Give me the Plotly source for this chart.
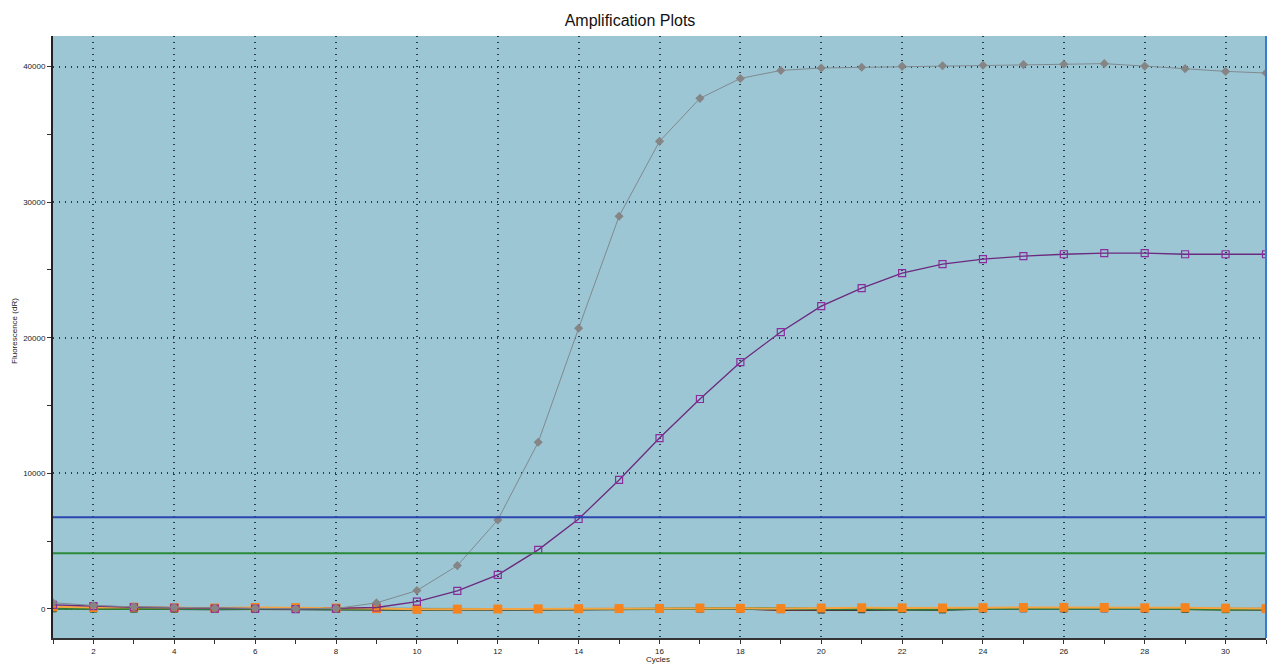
import plotly.graph_objects as go

cycles = list(range(1, 32))

gray_vals = [450, 250, 150, 100, 50, 50, 0, 30, 440, 1350, 3190, 6560, 12290, 20700,
             28960, 34490, 37660, 39130, 39720, 39900, 39950, 40020, 40060, 40100,
             40150, 40180, 40220, 40040, 39850, 39650, 39530]
purple_vals = [300, 200, 120, 80, 20, 10, -20, 20, 100, 540, 1330, 2500, 4350, 6630,
               9510, 12600, 15480, 18200, 20420, 22330, 23660, 24760, 25430, 25800,
               26020, 26160, 26240, 26240, 26160, 26160, 26160]
red_vals = [100, 60, 40, 20, 10, 30, 20, 0, -20, -30, -40, -30, -20, -10, 0, 0,
            10, 0, -60, -40, -10, 0, 10, 20, 20, 10, 0, 0, -10, -20, -30]
green_vals = [0, -20, -10, 0, 10, 0, -10, -20, -30, -50, -40, -20, -30, -20, 0, 30,
              40, 50, 30, 20, 10, -20, -40, 20, 30, 20, 30, 40, -10, -60, -30]
black_vals = [50, 20, 0, -10, -20, -10, -30, -20, -40, -60, -50, -40, -40, -30, -20,
              -20, 0, 10, -50, -80, -60, -50, -70, 0, 10, 10, 20, 0, -10, -50, -40]
teal_vals = [80, 40, 30, 10, 0, 20, 10, 0, 10, -10, -20, -10, -10, 0, 10, 10, 20,
             20, 10, 0, 0, 10, 20, 40, 40, 30, 20, 30, 20, 10, 0]
orange_vals = [150, 100, 120, 80, 60, 100, 90, 60, 20, -30, -20, -10, 0, 10, 20, 30,
               60, 40, 20, 60, 80, 70, 60, 90, 100, 110, 100, 80, 90, 50, 20]

threshold_blue = 6760
threshold_green = 4110

y_ticks = [0, 10000, 20000, 30000, 40000]
x_ticks = list(range(2, 31, 2))

fig = go.Figure()

flat = [
    ("Red", red_vals, "#c0262a", "#c0262a"),
    ("Black", black_vals, "#1a1a1a", "#1a1a1a"),
    ("Teal", teal_vals, "#2a8aa0", "#2a8aa0"),
    ("Green", green_vals, "#2e7d32", "#2e6b2a"),
]
for name, vals, lc, mc in flat:
    fig.add_trace(go.Scatter(x=cycles, y=vals, mode="lines+markers", name=name,
                             line=dict(color=lc, width=2),
                             marker=dict(symbol="square", size=7, color=mc)))

fig.add_trace(go.Scatter(x=cycles, y=orange_vals, mode="lines+markers", name="Orange",
                         line=dict(color="#f5a441", width=2),
                         marker=dict(symbol="square", size=9, color="#f5841f")))

fig.add_trace(go.Scatter(x=cycles, y=purple_vals, mode="lines+markers", name="Purple",
                         line=dict(color="#6a2a7e", width=1.3),
                         marker=dict(symbol="square-open", size=7, color="#8a2c9e",
                                     line=dict(width=1.2))))

fig.add_trace(go.Scatter(x=cycles, y=gray_vals, mode="lines+markers", name="Gray",
                         line=dict(color="#7f8a90", width=1),
                         marker=dict(symbol="diamond", size=7, color="#858585")))

fig.add_hline(y=threshold_blue, line=dict(color="#2b45b0", width=2))
fig.add_hline(y=threshold_green, line=dict(color="#2a8a3a", width=2))

W, H = 1271, 666
fig.update_layout(
    width=W, height=H,
    margin=dict(l=53, r=5, t=36, b=28),
    paper_bgcolor="white",
    plot_bgcolor="#9dc6d4",
    showlegend=False,
    title=dict(text="Amplification Plots", x=630 / W, xanchor="center",
               y=1 - 20 / H, yanchor="middle",
               font=dict(family="Liberation Sans, Arial", size=16, color="#111")),
    font=dict(family="Liberation Sans, Arial", size=8, color="#222"),
)

grid_dash = "1px,5px"
fig.update_xaxes(range=[1, 31], tickvals=x_ticks, ticks="outside", ticklen=4,
                 tickcolor="#333", showgrid=True, gridcolor="#2a3a48", griddash=grid_dash,
                 gridwidth=1.5, showline=True, linecolor="#333", linewidth=2,
                 zeroline=False, automargin=False,
                 minor=dict(dtick=1, tick0=1, ticks="outside",
                            ticklen=4, tickcolor="#333", showgrid=False),
                 tickfont=dict(size=8, color="#222"))
fig.update_yaxes(range=[-2150, 42260], tickvals=y_ticks, tickformat="d",
                 ticks="outside", ticklen=4,
                 tickcolor="#333", showgrid=True, gridcolor="#2a3a48", griddash=grid_dash,
                 gridwidth=1.5, showline=True, linecolor="#222", linewidth=2,
                 zeroline=False, automargin=False,
                 minor=dict(dtick=5000, tick0=0, ticks="outside",
                            ticklen=4, tickcolor="#333", showgrid=False),
                 tickfont=dict(size=8, color="#222"))

fig.add_annotation(text="Cycles", xref="paper", yref="paper", x=(658 - 53) / 1213, y=0,
                   yshift=-21, xanchor="center", yanchor="middle", showarrow=False,
                   font=dict(size=8, color="#222"))
fig.add_annotation(text="Fluorescence (dR)", xref="paper", yref="paper", x=0, y=0.51,
                   xshift=-38, xanchor="center", yanchor="middle", textangle=-90,
                   showarrow=False, font=dict(size=8, color="#222"))

fig.add_shape(type="line", xref="paper", yref="paper", x0=1, x1=1, y0=0, y1=1,
              line=dict(color="#3a7bd5", width=2))

fig.write_html("out.html",
               config={"displayModeBar": False},
               post_script="document.body.style.margin='0';"
                           "document.documentElement.style.overflow='hidden';")
